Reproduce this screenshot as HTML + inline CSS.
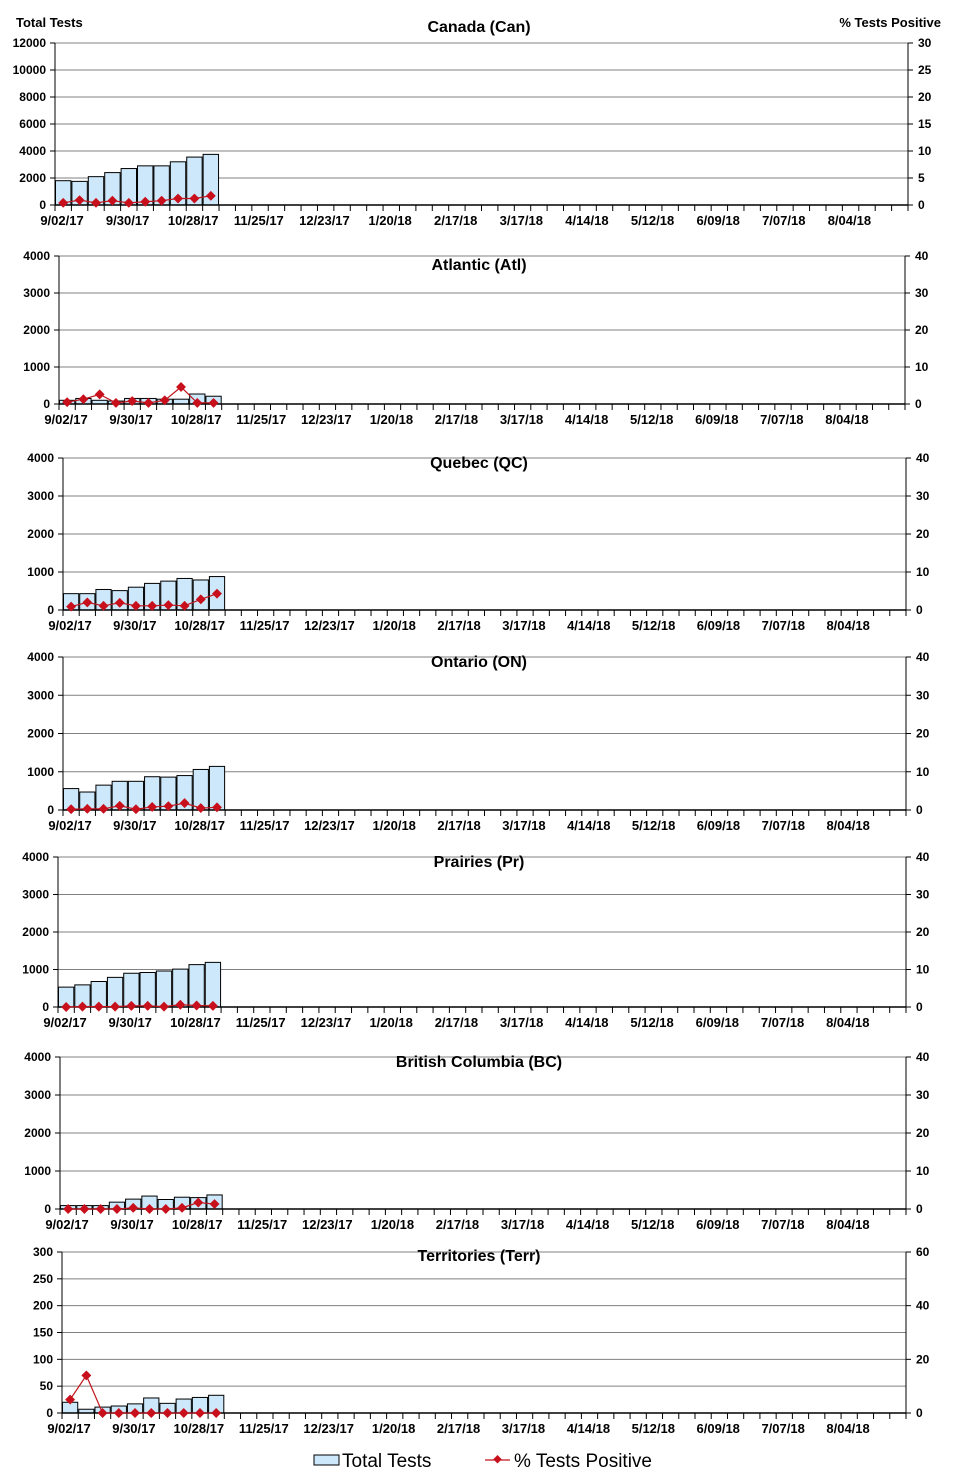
<!DOCTYPE html>
<html><head><meta charset="utf-8"><style>
body{margin:0;background:#fff;}
svg{display:block;font-family:"Liberation Sans",Arial,sans-serif;}
.t{font-size:12px;font-weight:bold;fill:#000;}
.x{font-size:13px;font-weight:bold;fill:#000;}
.h{font-size:16px;font-weight:bold;fill:#000;}
</style></head><body>
<svg id="c" width="958" height="1477"></svg>
<script>
const xLabels=["9/02/17","9/30/17","10/28/17","11/25/17","12/23/17","1/20/18","2/17/18","3/17/18","4/14/18","5/12/18","6/09/18","7/07/18","8/04/18"];
const panelTitles=["Canada (Can)","Atlantic (Atl)","Quebec (QC)","Ontario (ON)","Prairies (Pr)","British Columbia (BC)","Territories (Terr)"];
const canTotals=[1800,1750,2100,2400,2700,2900,2900,3200,3550,3750];
const canPct=[0.4,0.9,0.4,0.8,0.4,0.6,0.8,1.2,1.2,1.7];
const atlTotals=[100,150,100,80,150,150,130,130,270,210];
const atlPct=[0.5,1.3,2.6,0.3,0.8,0.3,1.0,4.6,0.3,0.3];
const qcTotals=[430,430,540,510,600,700,760,830,790,880];
const qcPct=[0.9,2.0,1.1,1.9,1.1,1.1,1.3,1.1,2.8,4.3];
const onTotals=[560,470,650,750,750,870,860,900,1060,1140];
const onPct=[0.2,0.3,0.3,1.1,0.2,0.8,1.0,1.8,0.5,0.7];
const prTotals=[530,590,680,790,900,920,960,1010,1130,1190];
const prPct=[0.0,0.1,0.1,0.1,0.3,0.3,0.1,0.6,0.4,0.3];
const bcTotals=[90,90,90,180,260,340,250,310,300,370];
const bcPct=[0,0,0,0,0.3,0,0,0.3,1.7,1.3];
const terrTotals=[20,7,11,13,17,28,18,26,29,33];
const terrPct=[5,14,0,0,0,0,0,0,0,0];
const leftMax=[12000,4000,4000,4000,4000,4000,300];
const leftStep=[2000,1000,1000,1000,1000,1000,50];
const rightMax=[30,40,40,40,40,40,60];
const rightStep=[5,10,10,10,10,10,20];
const totals=[canTotals,atlTotals,qcTotals,onTotals,prTotals,bcTotals,terrTotals];
const pcts=[canPct,atlPct,qcPct,onPct,prPct,bcPct,terrPct];
const L=[55,59,63,63,58,60,62],R=[908,905,906,906,906,906,906];
const T=[43,256,458,657,857,1057,1252],B=[205,404,610,810,1007,1209,1413];
const titleY=[32,270,468,667,867,1067,1261];
const NS="http://www.w3.org/2000/svg";
const svg=document.getElementById('c');
function mk(tag,a,parent){const e=document.createElementNS(NS,tag);for(const k in a)e.setAttribute(k,a[k]);(parent||svg).appendChild(e);return e;}
const slugs=["canada","atlantic","quebec","ontario","prairies","bc","territories"];
for(let p=0;p<7;p++){
  const g=mk('g',{});
  
  
  const l=L[p],r=R[p],t=T[p],b=B[p];
  const n=52,dx=(r-l)/n;
  const y=v=>b-(v/leftMax[p])*(b-t);
  const y2=v=>b-(v/rightMax[p])*(b-t);
  const x=i=>l+i*dx;
  for(let v=0;v<=leftMax[p];v+=leftStep[p]){
    const yy=y(v);
    if(v>0){const gl=mk('line',{x1:l,x2:r,y1:yy,y2:yy,stroke:'#808080','stroke-width':1},g);}
    mk('line',{x1:l-5,x2:l,y1:yy,y2:yy,stroke:'#000'},g);
    const tx=mk('text',{x:l-9,y:yy+4,'text-anchor':'end',class:'t'},g);tx.textContent=v;
    
  }
  for(let v=0;v<=rightMax[p];v+=rightStep[p]){
    const yy=y2(v);
    mk('line',{x1:r,x2:r+5,y1:yy,y2:yy,stroke:'#000'},g);
    const tx=mk('text',{x:r+10,y:yy+4,class:'t'},g);tx.textContent=v;
    
  }
  totals[p].forEach((v,i)=>{
    const bar=mk('rect',{x:x(i)+0.5,y:y(v),width:dx-1,height:b-y(v),fill:'#cce8fa',stroke:'#000','stroke-width':1},g);
    
    
  });
  mk('line',{x1:l,x2:l,y1:t,y2:b,stroke:'#000'},g);
  mk('line',{x1:r,x2:r,y1:t,y2:b,stroke:'#000'},g);
  mk('line',{x1:l,x2:r,y1:b,y2:b,stroke:'#000','stroke-width':1.5},g);
  for(let i=0;i<=n;i++) mk('line',{x1:x(i),x2:x(i),y1:b,y2:b+6,stroke:'#000'},g);
  xLabels.forEach((s,k)=>{
    const tx=mk('text',{x:x(k*4)+7,y:b+20,'text-anchor':'middle',class:'x'},g);tx.textContent=s;
    
  });
  const pts=pcts[p].map((v,i)=>[x(i)+dx/2,y2(v)]);
  const pl=mk('polyline',{points:pts.map(q=>q.join(',')).join(' '),fill:'none',stroke:'#c0141c','stroke-width':1.2},g);
  
  pts.forEach(q=>{
    const d=mk('rect',{x:q[0]-3.5,y:q[1]-3.5,width:7,height:7,fill:'#c8101c',transform:`rotate(45 ${q[0]} ${q[1]})`},g);
    
  });
  const tt=mk('text',{x:479,y:titleY[p],'text-anchor':'middle',class:'h'},g);tt.textContent=panelTitles[p];
  
}
let a=mk('text',{x:16,y:27,class:'x'});a.textContent='Total Tests';

a=mk('text',{x:941,y:27,'text-anchor':'end',class:'x'});a.textContent='% Tests Positive';

const lg=mk('g',{});

mk('rect',{x:314,y:1455,width:25,height:10,fill:'#cce8fa',stroke:'#000'},lg);
a=mk('text',{x:342,y:1467,style:'font-size:19px;fill:#000'},lg);a.textContent='Total Tests';

mk('line',{x1:485,x2:510,y1:1460,y2:1460,stroke:'#c0141c','stroke-width':1.2},lg);
mk('rect',{x:494,y:1456.5,width:6,height:6,fill:'#c8101c',transform:'rotate(45 497.5 1460)'},lg);
a=mk('text',{x:514,y:1467,style:'font-size:19px;fill:#000'},lg);a.textContent='% Tests Positive';

</script>
</body></html>
